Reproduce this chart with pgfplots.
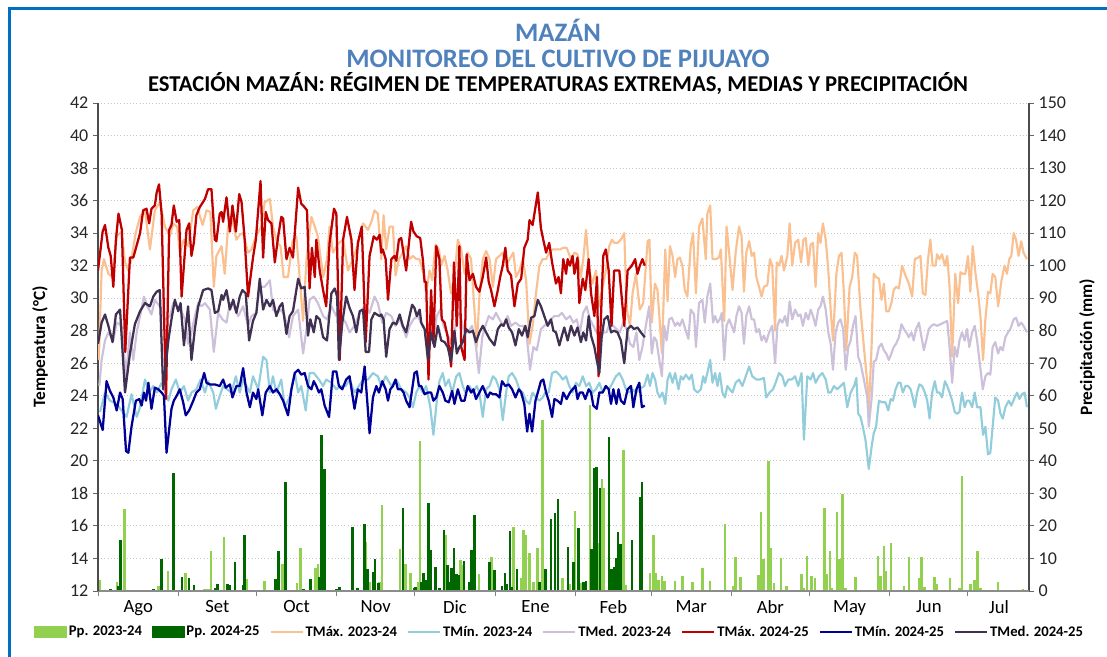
\documentclass[border=0pt]{standalone}
\usepackage{fontspec}
\setmainfont{Carlito}
\usepackage{pgfplots}
\pgfplotsset{compat=1.18}
\definecolor{tmaxA}{RGB}{250,192,144}
\definecolor{tminA}{RGB}{146,205,220}
\definecolor{tmedA}{RGB}{204,192,218}
\definecolor{tmaxB}{RGB}{192,0,0}
\definecolor{tminB}{RGB}{0,0,153}
\definecolor{tmedB}{RGB}{64,49,82}
\definecolor{ppA}{RGB}{146,208,80}
\definecolor{ppB}{RGB}{0,102,0}
\definecolor{titleblue}{RGB}{79,129,189}
\definecolor{frameblue}{RGB}{0,112,192}
\begin{document}
\begin{tikzpicture}
\fill[white] (0,0) rectangle (830.25pt,492.75pt);
\draw[frameblue, line width=2.25pt] (6.75pt,0pt) -- (6.75pt,486pt) -- (840pt,486pt);
\node[font=\bfseries\fontsize{20}{23}\selectfont, text=titleblue] at (418.5pt,470.25pt) {MAZÁN};
\node[font=\bfseries\fontsize{20}{23}\selectfont, text=titleblue] at (418.5pt,448.5pt) {MONITOREO DEL CULTIVO DE PIJUAYO};
\node[font=\bfseries\fontsize{17}{20}\selectfont, text=black] at (418.5pt,429.75pt) {ESTACIÓN MAZÁN: RÉGIMEN DE TEMPERATURAS EXTREMAS, MEDIAS Y PRECIPITACIÓN};
% ---------------- precipitation axis (right)
\begin{axis}[
  at={(73.5pt,49.5pt)}, anchor=south west,
  width=698.25pt, height=366pt, scale only axis,
  xmin=0, xmax=358.6, ymin=0, ymax=150,
  axis x line=none, axis y line*=right,
  ytick={0,10,...,150},
  ymajorgrids, major grid style={color=black!22, line width=0.7pt, dash pattern=on 0.8pt off 1.6pt},
  tick align=outside, major tick length=3.75pt,
  tick style={color=black!60, line width=0.7pt},
  y axis line style={color=black!70, line width=0.8pt},
  ticklabel style={font=\fontsize{13.5}{15}\selectfont, text=black!85},
  /pgf/number format/assume math mode=true,
  ylabel={\bfseries Precipitación (mm)},
  ylabel style={at={(axis description cs:1.0623,0.5)}, anchor=center, font=\fontsize{13}{15}\selectfont},
]
\addplot[ycomb, color=ppA, line width=1.9pt] coordinates {
(0.5,3.4) (7.4,2.7) (10.3,25.1) (23.2,1.5) (27,6.1) (33.8,5.6) (40.9,0.5) (41.8,0.5) (42.7,0.5) (43.6,12.4) (48.6,16.5) (57.4,3.7) (64.2,3.1) (71,8.2) (71.8,4.6) (76.7,2.4) (78,13.3) (83.8,7.0) (84.7,8.2) (103.3,15.2) (104.6,2.9) (108.4,2.9) (109.4,26.4)
(116.4,12.9) (118.5,8.2) (120.3,5.6) (123.2,2.9) (124.1,46.2) (134.1,17.2) (139.6,9.5) (140.2,8.0) (146.7,5.1) (151.5,10.3) (160.1,19.8) (163,3.9) (163.9,18.8) (164.9,17.2) (166.2,11.8) (167.8,2.9) (169.2,13.1) (171.3,52.6) (179,4.1) (181.8,2.3) (183.8,24.6) (185.8,2.6) (189.5,57.2) (192.8,14.7) (194.1,34.3) (194.9,31.6) (202.4,43.3) (203.3,1.9) (212.6,5.4) (214,17.2) (214.9,5.4) (215.9,3.4) (217.2,4.6)
(218.1,3.1) (222.2,3.1) (225.1,4.6) (229,2.7) (232.8,7.2) (235.8,3.1) (239.6,0.4) (241.5,20.5) (244.6,1.5) (245.6,10.6) (247.4,4.4) (254.4,4.9) (255.3,24.4) (256.3,9.7) (258.2,40.0) (259.2,13.1) (260.4,2.4) (263.1,10.0) (265.1,1.5) (271,5.1) (271.9,1.0) (273,10.8) (274.9,4.6) (276.2,4.1) (279.9,25.6) (280.8,5.1) (281.9,12.3) (282.8,1.0) (284.7,24.2) (285.6,9.7) (286.7,29.7) (287.9,0.8) (289.9,0.4) (291.8,4.4) (292.8,0.4) (300.5,10.8) (301.4,4.6) (302.7,13.9) (303.6,6.1) (305.5,14.7) (310.4,1.5) (312.4,10.3) (316.2,4.0) (317.2,10.6) (318.3,1.3) (322.1,4.2) (323.1,2.0) (328.1,3.9) (331.8,0.8) (332.8,35.5) (336,2.0) (337.7,3.4) (338.7,12.4) (339.9,1.0) (346.7,2.7) (356.3,0.5)
};
\addplot[ycomb, color=ppB, line width=1.9pt] coordinates {
(4.9,0.5) (7.9,1.5) (8.7,15.7) (21.3,0.5) (24.4,9.7) (29.1,36.4) (32.3,4.4) (35,3.9) (37,1.8) (45,0.8) (46,2.0) (49.9,2.0) (50.8,1.8) (52.7,9.0) (55.8,1.8) (56.5,17.2) (67.4,0.3) (68.3,3.7) (69.5,12.4) (72.3,33.6) (79.2,0.5) (81.9,3.6) (85.2,4.4) (86,48.0) (87.2,37.4) (91.8,0.5) (93,1.3) (98,19.8) (100,0.8) (102.7,20.5) (103.8,6.7) (105.9,5.7) (106.7,9.7) (108,2.6)
(117.4,25.4) (121.7,0.8) (122.3,1.3) (124.7,2.9) (125.4,5.4) (126.2,3.4) (127.4,27.2) (128.1,12.6) (130,7.5) (131.5,0.8) (133.2,18.8) (134.6,8.0) (135.4,2.9) (136.2,7.2) (137.2,13.3) (138,5.1) (139,4.9) (141,9.2) (143.1,2.9) (143.9,12.6) (145,23.4) (150.8,9.0) (152.8,6.5) (155.6,1.5) (156.8,5.6) (157.6,2.1) (158.7,18.4) (159.5,1.3) (161.4,6.9) (170,2.9) (172.3,6.8) (174.4,22.1) (176,23.9) (177.1,28.2) (181,13.6) (183.1,8.8) (185,19.5) (186.9,2.9) (187.9,3.1) (190,12.8) (191.1,37.9) (192,38.2) (193.4,31.8) (196.9,47.4) (197.8,6.7) (198.7,7.5) (199.5,10) (200.2,18.2) (201.2,14.3) (205.6,15.7) (208.7,29) (209.6,33.6)
};
\end{axis}
% ---------------- temperature axis (left)
\begin{axis}[
  at={(73.5pt,49.5pt)}, anchor=south west,
  width=698.25pt, height=366pt, scale only axis,
  xmin=0, xmax=358.6, ymin=12, ymax=42,
  axis x line*=bottom, axis y line*=left,
  ytick={12,14,...,42},
  xtick={15.5,46,76.5,107,137.5,168.5,198.5,228.5,259,289.5,320,347},
  xticklabels={Ago,Set,Oct,Nov,Dic,Ene,Feb,Mar,Abr,May,Jun,Jul},
  minor xtick={0,31,61,92,122,153,184,213,244,274,305,335},
  tick align=outside, major tick length=3.75pt, minor tick length=4pt,
  x tick style={draw=none},
  minor x tick style={draw=black!50, line width=0.7pt},
  y tick style={color=black!60, line width=0.7pt},
  x axis line style={color=black!45, line width=0.8pt},
  y axis line style={color=black!70, line width=0.8pt},
  ticklabel style={font=\fontsize{13.5}{15}\selectfont, text=black!85},
  xticklabel style={font=\fontsize{14}{16}\selectfont, text=black},
  /pgf/number format/assume math mode=true,
  ylabel={\bfseries Temperatura (°C)},
  ylabel style={at={(axis description cs:-0.0623,0.5)}, anchor=center, font=\fontsize{13}{15}\selectfont},
  every axis plot/.append style={line join=round},
  legend image code/.code={\draw[#1] (0pt,0pt) -- (24pt,0pt);},
  legend columns=8,
  legend style={draw=none, fill=none, at={(axis description cs:-0.073,-0.084)}, anchor=west,
    font=\bfseries\fontsize{11}{13}\selectfont, nodes={inner sep=1.5pt},
    /tikz/every even column/.append style={column sep=6pt}},
  legend cell align=left,
]
\addlegendimage{legend image code/.code={\fill[ppA] (0pt,-4pt) rectangle (24pt,4pt);}}
\addlegendentry{Pp. 2023-24}
\addlegendimage{legend image code/.code={\fill[ppB] (0pt,-4pt) rectangle (24pt,4pt);}}
\addlegendentry{Pp. 2024-25}
% TMax 2023-24
\addplot[color=tmaxA, line width=1.6pt] coordinates {
(0.3,26.2) (1.4,31.7) (2.3,32.4) (4.0,31.5) (5.6,31.3) (7.2,33.8) (9.1,34.1) (10.4,32.2) (11.7,31.7) (12.9,32.4) (14.5,34.0) (16.2,35.0) (18.1,35.4) (20.0,33.0) (21.9,35.4) (23.8,35.9) (25.8,34.4) (27.7,33.8) (29.0,34.6) (30.5,34.4) (31.5,32.8) (33.1,33.6) (34.7,33.2) (36.7,35.4) (38.2,35.6) (40.3,34.5) (41.8,35.4) (43.3,35.3) (44.6,30.7) (45.6,32.6) (47.6,33.2) (48.8,31.5) (50.1,34.4) (51.8,34.8) (53.3,33.6) (54.6,33.9) (55.9,34.0) (57.8,32.8) (59.1,33.0) (60.8,33.8) (62.9,34.4) (64.2,35.9) (66.2,36.1) (67.4,34.4) (69.0,33.4) (70.3,33.2) (71.5,31.3) (73.2,31.3) (74.9,33.5) (76.4,33.8) (79.0,28.6) (80.3,32.4) (82.2,35.0) (83.5,34.4) (84.7,33.8) (86.7,31.3) (88.2,32.4) (89.2,34.4) (90.5,32.8) (92.8,33.4) (94.4,33.6) (96.3,31.7) (98.2,32.4) (100.1,33.3) (102.1,34.6)
(104.0,34.2) (105.3,34.7) (106.5,35.4) (107.8,35.2) (109.1,32.4) (110.0,35.1) (111.0,33.0) (112.3,34.4) (113.6,34.4) (114.6,31.4) (115.9,32.4) (117.4,32.8) (118.7,33.2) (120.0,32.4) (121.3,32.6) (122.6,32.4) (123.8,32.4) (125.4,31.5) (126.4,30.3) (127.7,31.7) (128.7,31.1) (130.0,33.3) (131.3,33.0) (132.2,32.0) (133.5,32.6) (134.7,31.7) (136.0,30.3) (137.3,31.3) (138.6,33.6) (139.9,33.0) (141.2,31.5) (142.4,32.8) (143.7,32.4) (145.0,29.3) (145.9,27.0) (146.9,30.1) (148.2,32.4) (149.5,32.9) (150.8,32.4) (152.1,30.7) (153.3,32.4) (154.6,32.6) (155.9,32.8) (157.2,32.0) (158.5,32.4) (160.0,32.8) (161.0,31.3) (162.3,31.7) (163.6,32.4) (164.9,31.1) (166.2,27.2) (167.4,28.3) (168.7,30.3) (170.0,32.0) (171.3,32.4) (172.6,32.4) (173.8,32.8) (175.1,33.0) (176.7,33.0) (178.0,33.0) (179.2,33.1) (180.5,33.1) (182.2,32.4) (183.5,32.8) (184.7,32.7) (186.0,31.3) (186.9,32.4) (188.0,34.2) (189.2,31.7) (190.5,30.9) (191.8,31.7) (193.1,29.5) (194.4,30.7) (195.6,31.7) (196.9,33.2) (198.0,33.6) (198.8,33.4) (200.1,33.4) (201.4,33.6) (202.7,34.0) (203.7,29.3) (204.9,28.3) (205.9,30.3) (207.2,31.5) (208.7,29.3) (210.0,29.7) (211.7,33.5) (212.4,33.6)
(213.3,28.5) (214.5,30.9) (215.5,30.5) (216.4,28.5) (217.2,26.6) (218.5,33.0) (219.4,29.8) (220.3,33.2) (221.3,32.6) (222.3,31.3) (223.2,32.4) (224.1,32.5) (225.1,32.0) (226.0,30.5) (227.0,30.1) (228.3,33.2) (229.2,34.0) (230.3,30.3) (231.5,34.4) (232.8,34.9) (234.1,32.4) (234.7,35.2) (235.8,35.7) (236.7,32.4) (238.0,32.4) (239.2,32.5) (239.9,33.0) (241.2,28.6) (242.1,34.4) (243.1,32.8) (244.4,30.5) (245.6,32.8) (246.9,34.4) (247.9,33.8) (248.8,30.4) (249.7,32.8) (250.8,33.5) (251.8,32.6) (252.7,32.8) (253.6,31.3) (254.6,30.7) (255.6,30.1) (256.5,30.7) (257.8,30.8) (258.8,32.4) (259.7,32.0) (260.8,28.0) (261.4,32.2) (262.3,32.0) (263.3,32.6) (264.2,31.7) (265.5,32.6) (266.4,34.6) (267.4,32.0) (268.5,33.4) (269.7,33.6) (270.8,32.2) (271.7,33.6) (272.6,33.7) (273.6,32.0) (274.5,33.3) (275.4,33.4) (276.4,30.7) (277.4,34.0) (278.3,33.4) (279.2,34.6) (280.3,33.6) (281.3,31.7) (282.2,29.3) (283.1,27.4) (284.4,31.5) (285.4,32.6) (286.4,32.8) (287.3,30.3) (288.2,26.8) (289.5,30.7) (290.5,31.3) (291.5,32.8) (292.4,32.6) (293.7,29.3) (295.0,27.0) (296.3,24.8) (296.9,23.0) (298.0,27.2) (298.8,31.5) (299.7,31.3) (300.8,31.2) (301.8,29.9) (302.7,30.9) (303.6,29.2) (304.6,29.2) (305.6,29.7) (306.5,30.5) (307.4,30.7) (308.5,30.6) (309.7,32.0) (311.0,31.4) (312.3,30.9) (313.6,30.1) (314.6,32.4) (315.9,32.5) (316.8,32.6) (317.7,30.3) (318.7,30.2) (319.7,32.4) (320.6,33.6) (321.5,32.0) (322.6,32.0) (323.2,32.7) (324.1,32.4) (325.1,32.7) (326.2,32.0) (327.1,32.6) (328.0,30.7) (329.0,26.4) (330.2,31.5) (331.3,29.7) (332.2,31.6) (333.1,31.5) (334.1,31.5) (335.1,32.6) (336.0,30.4) (336.9,33.2) (338.0,31.5) (339.0,30.3) (339.9,28.9) (340.9,26.2) (341.8,28.7) (342.8,30.4) (343.7,30.3) (344.6,31.5) (345.6,31.3) (346.7,29.5) (348.0,31.1) (349.2,32.0) (350.1,31.5) (351.0,32.4) (351.8,32.6) (352.7,34.0) (353.6,33.6) (354.6,32.6) (355.6,33.5) (356.5,32.8) (357.8,32.4)
};
\addlegendentry{TMáx. 2023-24}
% TMin 2023-24
\addplot[color=tminA, line width=1.6pt] coordinates {
(0.8,23.0) (2.7,24.2) (4.6,23.7) (7.2,23.5) (9.1,23.1) (11.0,22.7) (12.9,24.1) (14.9,22.7) (16.2,23.3) (18.1,25.0) (19.7,24.2) (21.3,24.6) (22.6,24.2) (24.5,24.8) (27.1,23.7) (28.3,24.4) (30.0,25.0) (31.5,24.2) (33.1,24.6) (34.7,23.7) (36.0,24.2) (37.9,24.4) (39.5,25.0) (41.2,24.2) (42.4,24.9) (44.4,24.2) (45.4,23.2) (46.7,23.9) (48.2,24.6) (49.7,24.4) (51.4,24.2) (53.1,25.2) (54.6,24.2) (55.9,25.0) (57.2,24.6) (58.5,24.2) (59.7,25.2) (61.7,24.4) (63.6,26.4) (64.9,26.2) (66.2,24.2) (67.4,25.2) (68.7,24.2) (70.6,25.0) (71.9,23.3) (73.8,23.9) (75.8,25.4) (77.1,24.2) (78.3,24.6) (80.0,23.1) (81.5,25.4) (83.1,25.4) (85.1,25.0) (86.7,24.6) (87.9,25.0) (89.9,24.8) (91.8,24.4) (93.7,24.6) (95.4,24.6) (96.9,25.0) (98.8,24.2) (100.5,24.6) (102.1,25.0)
(104.0,25.0) (105.9,25.4) (107.8,25.2) (109.1,24.6) (110.8,25.2) (113.0,24.6) (114.9,25.0) (116.8,24.4) (118.7,24.2) (120.0,23.9) (121.3,23.3) (122.6,24.2) (123.8,24.6) (125.1,24.2) (126.4,24.6) (128.0,23.3) (129.2,21.6) (130.5,23.7) (131.5,24.9) (132.8,25.4) (133.8,24.6) (135.1,25.0) (136.4,24.2) (138.0,25.2) (139.2,25.4) (140.5,24.6) (141.5,24.2) (143.1,24.6) (144.4,24.2) (145.9,24.6) (146.9,24.2) (148.2,22.7) (149.5,24.4) (150.8,24.6) (152.1,25.2) (153.3,25.0) (154.6,24.4) (155.9,22.5) (157.2,24.2) (158.2,25.2) (159.5,25.4) (161.0,25.0) (162.3,24.4) (163.6,24.2) (164.9,23.7) (166.2,23.5) (167.4,24.2) (168.7,23.9) (170.0,23.7) (171.3,23.9) (172.3,24.2) (173.6,24.2) (174.9,25.4) (176.4,25.5) (177.7,25.3) (179.0,25.0) (180.3,25.2) (181.5,24.6) (182.8,24.2) (184.1,24.8) (185.4,24.6) (186.7,25.2) (188.0,24.6) (189.2,24.8) (190.5,24.2) (191.8,24.4) (193.1,24.8) (194.4,24.2) (195.6,24.6) (196.9,24.4) (198.2,24.8) (199.5,25.2) (200.8,25.4) (202.1,25.0) (203.3,24.4) (204.6,24.2) (205.9,24.4) (207.2,24.2)
(208.5,24.4) (210.4,24.6) (211.7,25.3) (212.6,24.6) (213.6,25.4) (214.6,25.0) (215.5,24.2) (216.4,23.9) (217.4,24.2) (218.5,23.5) (219.4,25.0) (220.3,25.4) (221.3,24.8) (222.3,25.4) (223.6,24.4) (224.5,25.2) (225.4,25.0) (226.4,25.3) (227.7,25.0) (228.7,25.3) (229.6,24.4) (230.9,24.2) (232.2,24.4) (233.1,25.2) (233.8,24.8) (234.7,25.4) (235.8,26.2) (236.7,24.8) (237.7,25.4) (238.6,24.6) (239.5,25.4) (240.5,24.2) (241.5,23.9) (242.4,24.6) (243.3,24.4) (244.4,24.2) (245.6,24.8) (246.9,25.0) (248.2,24.6) (249.5,25.2) (250.8,25.8) (252.0,25.2) (253.6,25.0) (254.9,25.0) (256.5,25.1) (257.4,23.9) (258.7,24.2) (260.0,24.4) (261.0,24.8) (262.3,25.4) (263.6,25.2) (264.6,24.6) (265.9,25.0) (267.2,25.0) (268.5,25.2) (269.7,24.6) (271.0,25.4) (271.9,21.3) (273.2,25.2) (274.5,25.0) (275.4,25.4) (276.4,24.8) (277.7,25.2) (279.0,25.4) (280.3,25.0) (281.3,24.2) (282.2,24.2) (283.5,24.6) (284.7,24.4) (286.0,24.6) (287.3,24.8) (288.6,23.3) (289.9,24.2) (291.2,24.6) (292.1,25.1) (292.8,22.9) (293.7,22.7) (294.6,22.1) (295.6,21.3) (296.9,19.5) (298.0,20.9) (298.8,21.7) (299.7,22.1) (300.8,23.7) (302.0,23.6) (303.3,23.6) (304.4,23.1) (305.3,23.8) (306.2,23.7) (307.2,24.4) (308.2,24.8) (309.1,24.8) (310.0,24.2) (311.0,24.6) (312.0,24.6) (313.0,24.4) (313.8,23.9) (314.6,23.3) (315.5,24.2) (316.4,24.7) (317.4,24.6) (318.5,24.2) (319.4,23.7) (320.3,22.6) (321.3,24.2) (322.3,24.9) (323.2,24.2) (324.1,24.2) (325.1,23.9) (326.2,24.9) (327.1,24.6) (328.0,24.2) (329.0,23.7) (330.0,23.0) (330.9,22.9) (331.8,23.0) (332.8,24.2) (333.8,23.3) (334.7,23.7) (335.6,23.7) (336.7,23.3) (337.7,24.2) (338.6,23.3) (339.9,23.3) (340.9,21.6) (341.8,22.1) (342.8,20.4) (343.7,20.5) (344.6,22.1) (345.6,23.9) (346.7,23.7) (347.6,22.9) (348.5,22.6) (349.5,23.3) (350.8,23.7) (351.8,23.4) (353.1,23.9) (354.0,24.2) (354.9,23.8) (355.9,24.1) (356.9,24.2) (357.8,23.3)
};
\addlegendentry{TMín. 2023-24}
% TMed 2023-24
\addplot[color=tmedA, line width=1.6pt] coordinates {
(0.5,24.6) (1.4,26.2) (2.7,27.4) (4.0,27.9) (5.9,27.4) (7.2,28.5) (9.1,28.3) (10.8,25.2) (12.3,27.9) (13.6,26.2) (14.9,27.9) (16.2,28.9) (17.7,30.1) (19.0,29.5) (20.6,29.0) (21.9,29.9) (23.8,29.5) (25.8,28.7) (27.7,28.9) (29.0,29.7) (30.5,29.5) (31.8,29.3) (33.5,28.7) (34.7,27.2) (36.0,27.9) (37.3,28.9) (38.6,29.7) (39.9,29.5) (41.2,29.7) (43.1,29.3) (44.6,26.7) (46.3,29.1) (47.9,28.7) (49.5,28.5) (50.8,29.7) (52.3,29.5) (54.0,28.9) (55.9,29.5) (57.8,28.3) (59.1,28.9) (61.0,29.1) (62.3,30.7) (64.2,30.7) (66.2,31.1) (67.4,29.3) (69.0,29.1) (70.6,29.3) (71.9,28.9) (73.6,27.6) (75.1,28.9) (77.1,29.3) (79.0,26.6) (80.3,28.1) (81.5,29.9) (83.1,30.1) (84.7,29.7) (86.7,28.9) (88.2,28.7) (89.9,29.5) (91.8,28.9) (93.7,28.9) (95.4,28.5) (96.9,27.9) (98.8,28.3) (100.8,29.1) (102.7,29.5)
(104.6,29.1) (106.5,30.1) (107.8,29.7) (109.5,28.5) (111.0,29.1) (113.0,28.9) (114.6,28.3) (116.2,28.7) (117.7,28.1) (118.7,27.6) (120.0,28.3) (121.5,28.7) (123.2,28.9) (124.9,28.3) (126.4,27.9) (127.7,28.1) (129.0,27.4) (130.5,28.9) (131.8,29.3) (133.1,28.3) (134.4,27.9) (136.0,27.2) (137.3,27.9) (138.6,29.1) (139.9,28.7) (141.2,27.9) (142.4,27.9) (144.1,28.3) (145.6,27.0) (146.7,25.4) (148.0,27.6) (149.2,28.3) (150.5,28.9) (152.1,28.7) (153.3,29.1) (154.6,28.7) (156.2,28.3) (157.8,28.9) (159.1,28.3) (160.8,28.5) (162.3,28.3) (163.6,28.3) (164.9,28.1) (166.4,25.6) (167.7,27.0) (169.0,26.8) (170.6,28.1) (171.9,28.3) (173.2,28.5) (174.5,28.7) (175.8,28.9) (177.4,28.9) (178.7,29.1) (180.3,28.7) (181.8,28.9) (183.1,28.5) (184.4,28.7) (185.6,27.9) (186.9,29.1) (188.2,29.5) (189.5,28.7) (190.8,28.3) (192.1,27.9) (193.3,27.4) (194.6,27.9) (195.9,27.9) (197.2,28.5) (198.5,28.3) (199.7,28.1) (201.0,27.9) (202.3,28.5) (203.6,28.1) (204.9,27.2) (206.2,27.0) (207.4,27.9)
(208.5,26.2) (209.7,27.0) (211.0,28.3) (212.3,29.5) (213.3,26.6) (214.2,27.6) (215.1,27.4) (216.2,26.2) (217.2,25.2) (218.1,28.3) (219.0,27.4) (220.0,28.7) (221.0,28.8) (222.3,28.3) (223.2,28.5) (224.1,28.3) (225.1,28.7) (226.2,28.1) (227.4,27.5) (228.3,29.3) (229.6,29.0) (230.3,27.0) (231.5,29.7) (232.8,29.9) (233.7,28.5) (234.7,30.1) (235.8,30.9) (236.9,28.5) (237.7,28.9) (238.6,28.5) (239.5,28.7) (240.3,29.1) (241.2,26.2) (242.1,28.3) (243.1,28.7) (244.1,28.3) (245.0,27.9) (245.9,28.9) (246.9,29.5) (247.9,29.1) (248.8,27.2) (249.7,28.9) (250.8,29.5) (251.8,28.7) (252.7,28.7) (253.6,27.9) (254.6,28.1) (255.6,27.4) (256.5,27.7) (257.4,27.3) (258.5,27.9) (259.7,28.3) (260.8,26.0) (261.7,28.3) (262.6,28.7) (263.6,28.5) (264.6,28.9) (265.5,28.3) (266.4,29.8) (267.4,28.7) (268.5,29.3) (269.7,28.9) (270.6,29.0) (271.5,28.3) (272.6,29.1) (273.6,28.7) (274.5,29.3) (275.4,28.9) (276.4,28.3) (277.4,29.3) (278.3,29.5) (279.2,30.1) (280.3,29.3) (281.3,27.9) (282.2,27.2) (283.1,25.6) (284.1,27.9) (285.1,28.5) (286.0,28.7) (287.0,28.1) (288.0,25.6) (289.0,27.0) (289.9,27.4) (290.8,28.3) (291.8,28.9) (292.8,26.4) (293.7,26.0) (295.0,25.0) (296.3,23.9) (296.9,22.1) (298.0,23.9) (298.8,26.1) (299.7,26.2) (300.8,27.0) (301.8,27.2) (302.7,26.8) (303.6,26.6) (304.6,26.2) (305.6,26.6) (306.5,27.0) (307.4,27.2) (308.5,27.6) (309.5,28.4) (310.4,28.1) (311.3,27.9) (312.3,27.6) (313.3,27.9) (314.2,27.4) (315.1,28.1) (316.2,28.5) (317.2,27.6) (318.1,26.8) (319.0,27.4) (320.0,28.1) (321.0,28.3) (322.0,28.4) (323.2,28.3) (324.5,28.4) (325.8,28.5) (327.1,28.6) (328.0,27.0) (329.0,24.8) (330.0,27.0) (330.9,26.4) (331.8,27.4) (332.8,27.9) (333.8,27.4) (334.7,28.1) (335.6,27.0) (336.7,27.9) (337.7,28.3) (338.6,27.4) (339.5,26.2) (340.8,24.4) (341.8,25.2) (342.8,25.4) (343.7,25.3) (344.6,27.0) (345.6,27.3) (346.7,26.6) (347.6,27.0) (348.5,26.8) (349.5,27.6) (350.5,27.9) (351.4,28.1) (352.7,28.7) (353.6,28.8) (354.6,28.3) (355.6,28.5) (356.5,28.3) (357.8,27.9)
};
\addlegendentry{TMed. 2023-24}
% TMax 2024-25
\addplot[color=tmaxB, line width=1.7pt] coordinates {
(0,31.7) (1.8,34.1) (2.7,34.5) (4.0,33.1) (4.9,32.6) (5.9,30.7) (6.9,33.6) (7.9,35.2) (9.2,34.2) (10.5,26.7) (12.3,32.5) (13.6,32.5) (16.2,34.0) (17.4,35.4) (18.7,35.5) (19.7,34.6) (20.6,35.5) (21.9,35.7) (22.6,36.5) (23.5,37.0) (24.5,35.2) (26.2,23.8) (27.4,34.2) (28.3,34.5) (29.2,35.7) (30.3,34.7) (31.3,34.8) (32.2,30.1) (34.1,34.2) (35.1,34.6) (36.0,32.6) (36.9,33.4) (37.9,35.1) (39.2,35.6) (41.2,36.1) (42.4,36.7) (43.7,36.7) (45.0,33.6) (45.6,33.5) (46.9,35.2) (47.6,35.3) (48.2,34.7) (49.5,36.2) (50.8,34.1) (51.8,35.7) (53.1,34.1) (54.4,36.4) (55.3,35.9) (56.5,33.6) (57.8,30.1) (59.7,32.5) (60.8,33.6) (61.7,35.4) (62.6,37.2) (63.6,32.5) (64.6,35.3) (65.5,34.8) (66.8,34.6) (68.1,32.2) (69.4,33.8) (70.6,35.0) (71.3,34.9) (72.6,32.4) (73.8,33.1) (75.1,32.5) (77.1,36.8) (78.3,35.8) (79.0,35.7) (80.5,35.4) (81.5,30.6) (82.4,33.1) (83.5,31.3) (84.1,33.6) (85.4,31.7) (86.7,30.5) (87.9,29.5) (89.2,33.4) (90.9,35.5) (91.8,35.2) (93.1,26.2) (94.4,33.6) (95.9,35.0) (97.6,33.6) (98.8,30.5) (100.1,33.4) (101.6,34.4)
(103.1,27.3) (104.6,32.6) (106.2,33.8) (107.4,33.6) (108.5,33.9) (109.1,32.8) (109.7,33.0) (110.8,32.4) (111.7,29.9) (113.0,32.4) (114.2,32.6) (114.9,32.3) (115.9,33.6) (116.8,33.7) (118.7,31.7) (120.6,34.7) (121.5,34.1) (122.8,33.8) (124.1,33.7) (125.1,32.4) (125.8,31.0) (126.4,31.0) (127.3,25.0) (128.3,30.5) (129.2,27.2) (130.3,33.2) (131.5,32.4) (132.4,28.7) (133.5,28.5) (134.7,27.6) (136.0,25.8) (137.1,32.2) (138.2,28.3) (139.2,33.2) (139.9,27.0) (141.2,26.2) (142.0,32.7) (143.1,31.1) (144.4,31.5) (145.6,30.7) (146.9,30.4) (148.2,31.3) (149.5,32.5) (150.5,31.0) (151.4,30.5) (152.7,29.5) (154.0,30.5) (154.9,31.3) (155.9,32.0) (156.9,33.1) (157.8,31.7) (159.1,31.4) (160.4,29.5) (161.7,30.9) (163.0,31.2) (164.2,33.1) (165.5,33.6) (166.2,34.8) (167.4,34.5) (168.3,35.4) (169.4,36.5) (170.6,34.3) (171.5,33.6) (172.6,32.8) (173.8,33.4) (174.9,32.2) (176.4,30.9) (177.4,31.3) (178.3,30.3) (179.2,32.4) (180.3,31.5) (180.9,32.4) (181.8,32.0) (182.8,32.6) (183.5,31.5) (184.7,32.5) (185.4,29.7) (186.7,31.2) (187.7,30.5) (189.0,32.4) (189.9,30.3) (191.2,28.9) (192.2,31.3) (192.8,25.2) (193.7,28.7) (194.6,32.6) (195.6,33.0) (196.7,31.7) (197.8,28.3) (198.8,31.7) (200.8,31.7) (202.7,28.3) (204.0,31.7) (205.6,32.0) (206.9,32.4) (207.8,31.5) (208.7,32.0) (209.7,32.4) (210.6,32.0)
};
\addlegendentry{TMáx. 2024-25}
% TMin 2024-25
\addplot[color=tminB, line width=1.7pt] coordinates {
(0,22.8) (1.8,21.9) (3.3,24.9) (4.6,24.3) (5.9,23.9) (7.2,23.1) (8.5,24.2) (9.5,23.8) (10.8,20.6) (11.7,20.5) (12.9,22.1) (14.6,23.7) (15.9,23.8) (16.8,23.4) (17.7,24.2) (18.5,23.7) (19.4,24.8) (20.6,23.2) (21.9,24.5) (23.2,24.4) (24.5,24.2) (25.4,24.0) (26.4,20.5) (28.3,23.2) (29.2,23.7) (30.3,24.0) (31.5,24.4) (32.8,23.6) (33.8,22.8) (35.1,23.1) (36.7,23.7) (37.9,24.2) (39.2,24.4) (40.9,25.4) (41.8,24.8) (43.1,24.7) (45.0,24.7) (46.9,24.6) (48.2,25.0) (49.2,24.5) (50.8,24.7) (51.8,23.9) (53.3,24.6) (54.6,24.6) (55.9,25.7) (57.2,24.2) (58.5,23.3) (59.7,24.2) (61.0,23.8) (61.7,24.4) (63.3,22.8) (64.6,24.2) (66.2,24.6) (67.4,24.2) (68.7,24.4) (70.0,24.1) (71.3,23.7) (73.2,22.8) (74.5,24.4) (75.8,25.4) (77.1,25.6) (78.3,25.3) (79.6,25.4) (80.9,24.6) (82.2,24.4) (83.1,24.9) (84.1,24.6) (85.1,24.2) (86.0,24.4) (87.3,23.4) (89.0,22.7) (90.5,25.5) (91.8,25.5) (92.8,24.6) (94.1,24.4) (95.6,25.0) (96.9,25.2) (98.8,23.2) (100.1,24.4) (101.4,24.2) (102.7,25.8)
(103.6,23.9) (104.6,21.7) (105.9,23.9) (107.2,24.6) (108.2,24.2) (109.5,24.9) (110.8,24.4) (111.7,23.7) (112.6,24.4) (113.6,24.6) (114.6,25.0) (115.5,24.4) (116.8,24.4) (117.7,24.2) (118.7,23.7) (120.0,23.3) (121.0,24.4) (121.9,25.4) (122.8,25.5) (123.6,24.6) (124.5,24.6) (125.8,24.1) (127.1,24.2) (128.3,24.2) (129.2,23.7) (130.3,23.9) (131.5,24.6) (132.8,24.2) (133.8,23.7) (135.1,23.6) (136.4,24.3) (137.3,23.5) (138.6,24.4) (139.9,23.7) (141.2,23.7) (142.4,24.6) (143.7,24.2) (144.6,24.4) (145.6,23.8) (146.9,24.2) (148.2,24.6) (149.2,24.2) (150.1,23.9) (151.0,24.2) (152.1,24.1) (153.3,24.1) (154.6,23.9) (155.6,24.9) (156.9,24.6) (158.2,24.7) (159.5,24.4) (160.8,23.9) (162.1,24.4) (163.0,24.2) (164.2,23.5) (165.3,21.8) (166.2,22.9) (167.2,21.8) (168.5,23.7) (169.4,24.2) (170.6,24.9) (171.5,25.0) (172.6,24.2) (173.6,23.7) (174.9,22.7) (175.8,23.8) (177.0,23.7) (178.3,23.5) (179.2,24.2) (180.5,23.8) (181.8,24.2) (182.8,24.4) (183.9,24.6) (184.7,23.8) (185.6,24.2) (186.7,24.2) (187.7,23.8) (189.0,24.4) (189.9,24.2) (190.8,23.4) (192.1,23.2) (193.1,24.2) (194.4,24.2) (195.6,24.6) (196.7,24.4) (197.6,23.5) (198.5,24.4) (199.7,23.5) (200.5,24.4) (201.4,23.7) (202.7,23.5) (204.0,24.4) (205.3,24.6) (206.2,23.3) (207.4,24.4) (208.5,24.8) (209.5,23.3) (210.6,23.4)
};
\addlegendentry{TMín. 2024-25}
% TMed 2024-25
\addplot[color=tmedB, line width=1.7pt] coordinates {
(0,27.2) (1.4,28.5) (2.7,29.0) (4.0,28.3) (5.6,27.3) (6.9,29.0) (8.5,29.3) (10.4,24.2) (12.3,26.6) (14.2,28.4) (16.2,29.2) (18.1,29.7) (20.0,29.5) (21.3,30.1) (22.6,30.4) (23.8,30.5) (25.1,24.4) (27.1,27.4) (28.3,28.7) (29.6,29.9) (30.9,29.2) (31.8,29.7) (33.1,27.1) (34.7,29.5) (36.0,26.2) (37.3,28.1) (38.6,29.5) (40.5,30.5) (42.4,30.6) (43.7,30.5) (45.0,29.1) (46.3,29.2) (47.6,30.2) (48.2,29.9) (49.5,30.5) (50.8,29.3) (52.1,29.9) (53.3,29.1) (54.6,30.1) (55.6,30.5) (56.9,30.3) (58.2,27.4) (59.7,28.6) (61.0,29.1) (62.3,31.2) (63.6,29.3) (64.9,29.9) (66.2,29.5) (67.4,29.9) (68.7,28.9) (70.0,29.5) (71.0,29.7) (72.6,27.8) (73.8,28.9) (75.1,29.2) (77.1,31.2) (78.3,30.6) (79.6,30.7) (80.9,27.7) (81.8,28.7) (83.1,27.9) (84.1,28.9) (85.4,28.7) (86.7,27.6) (88.2,27.4) (89.9,30.3) (91.2,30.6) (92.1,30.1) (92.8,26.2) (94.1,28.5) (95.6,30.1) (96.9,29.4) (98.2,28.9) (99.5,27.9) (100.8,29.2) (102.1,29.3)
(103.1,26.7) (104.4,26.7) (105.3,28.7) (106.5,29.1) (107.4,29.0) (108.5,28.9) (109.1,29.0) (110.0,28.7) (111.0,26.4) (112.3,28.1) (113.6,28.5) (114.9,28.4) (116.2,29.0) (117.4,28.3) (118.7,27.9) (120.0,28.9) (121.0,29.6) (121.9,29.4) (122.8,28.9) (123.9,29.3) (124.5,28.5) (125.8,28.1) (127.1,26.2) (128.3,27.9) (129.6,27.0) (130.9,28.3) (132.2,27.4) (133.5,27.3) (134.7,27.0) (136.0,26.1) (137.3,28.0) (138.2,26.6) (139.2,27.0) (140.5,27.3) (141.8,28.1) (143.1,27.9) (144.4,28.0) (145.6,27.3) (146.9,27.9) (148.2,28.3) (149.5,27.9) (150.8,27.5) (151.8,27.3) (152.7,27.1) (154.0,28.1) (155.3,28.4) (156.2,28.3) (157.2,28.7) (158.2,28.2) (159.5,27.9) (160.8,27.1) (162.1,28.1) (163.3,27.7) (164.6,28.3) (165.5,27.6) (166.8,28.8) (168.1,28.9) (169.4,29.9) (170.6,29.5) (171.9,28.9) (173.2,28.3) (174.5,28.7) (175.4,28.0) (176.4,27.9) (177.7,27.1) (178.7,27.7) (179.6,28.2) (180.9,27.4) (182.2,28.3) (183.5,27.7) (184.7,28.2) (186.0,27.3) (186.9,27.9) (188.0,27.4) (189.0,28.9) (189.9,27.7) (191.2,27.0) (192.1,26.2) (193.1,25.4) (194.0,27.6) (195.0,28.7) (196.3,28.9) (197.6,27.9) (198.8,28.0) (200.1,27.9) (201.4,27.4) (202.7,26.0) (204.0,28.1) (205.3,28.3) (206.5,28.1) (207.8,28.2) (209.1,27.9) (210.6,27.6)
};
\addlegendentry{TMed. 2024-25}
\end{axis}
\pgfresetboundingbox
\path[use as bounding box] (0,0) rectangle (830.25pt,492.75pt);
\end{tikzpicture}
\end{document}
